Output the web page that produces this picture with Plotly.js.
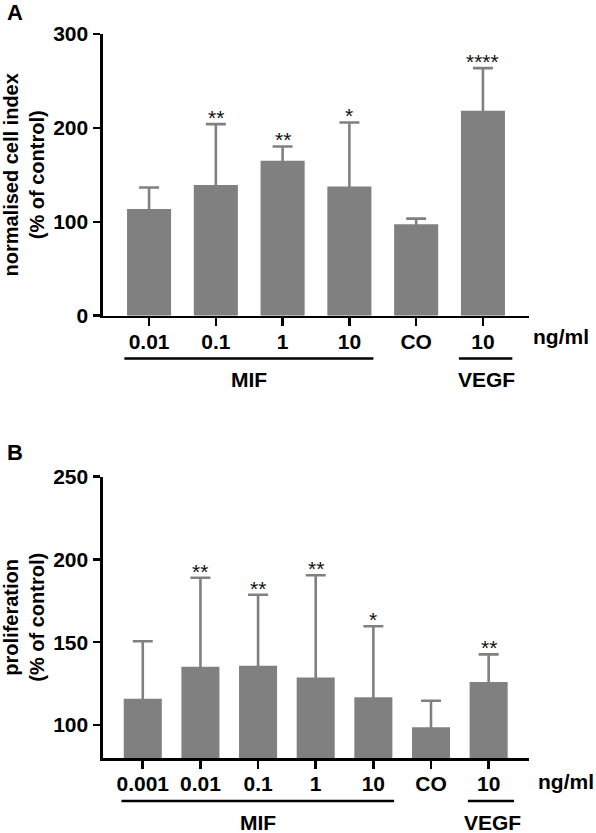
<!DOCTYPE html>
<html>
<head>
<meta charset="utf-8">
<script src="https://cdn.plot.ly/plotly-3.0.1.min.js"></script>
<style>html,body{margin:0;padding:0;background:#fff;}#chart{width:596px;height:833px;}</style>
</head>
<body>
<div id="chart"></div>
<script>
// ---------- data ----------
// Panel A: normalised cell index (% of control)
var labelsA = ['0.01', '0.1', '1', '10', 'CO', '10'];
var meansA  = [113.7, 139.3, 165.0, 137.5, 97.4, 218.2];
var sdA     = [22.8, 64.7, 15.2, 68.3, 6.0, 45.5];
var starsA  = ['', '**', '**', '*', '', '****'];
var groupsA = [['MIF', 0, 3], ['VEGF', 5, 5]];
var ticksA  = [0, 100, 200, 300];

// Panel B: proliferation (% of control)
var labelsB = ['0.001', '0.01', '0.1', '1', '10', 'CO', '10'];
var meansB  = [115.8, 135.1, 135.7, 128.7, 116.7, 98.6, 125.9];
var sdB     = [34.8, 53.8, 43.0, 61.7, 42.9, 16.0, 16.7];
var starsB  = ['', '**', '**', '**', '*', '', '**'];
var groupsB = [['MIF', 0, 4], ['VEGF', 6, 6]];
var ticksB  = [100, 150, 200, 250];

var unitLabel = 'ng/ml';

// ---------- layout helpers ----------
var W = 596, H = 833;
var mL = 103, mR = 67, mT = 34, mB = 75;
var pw = W - mL - mR, ph = H - mT - mB;
function px(x) { return (x - mL) / pw; }
function py(y) { return (H - mB - y) / ph; }

var FONT = '"Liberation Sans", Arial, Helvetica, sans-serif';
var GREY = '#808080';

function idx(arr) { return arr.map(function (_, i) { return i; }); }

function barTrace(labels, means, sd, xa, ya) {
  return {
    type: 'bar', x: idx(labels), y: means, xaxis: xa, yaxis: ya,
    width: 0.66, marker: { color: GREY, line: { width: 0 } },
    // mean ± SD; the lower half lies inside the bar (same colour) so only the upper half shows
    error_y: { type: 'data', symmetric: true, array: sd,
               color: GREY, thickness: 2.6, width: 10 },
    showlegend: false, hoverinfo: 'skip'
  };
}

var data = [
  barTrace(labelsA, meansA, sdA, 'x', 'y'),
  barTrace(labelsB, meansB, sdB, 'x2', 'y2')
];

var TICKFONT = { family: FONT, size: 21, color: '#000', weight: 700 };

function xAxis(labels, range, anchor) {
  return {
    range: range, anchor: anchor, domain: [0, 1],
    tickmode: 'array', tickvals: idx(labels), ticktext: labels,
    showline: true, linecolor: '#000', linewidth: 2.6,
    ticks: 'outside', ticklen: 8, tickwidth: 2.6, tickcolor: '#000',
    showgrid: false, zeroline: false, fixedrange: true,
    tickfont: TICKFONT, ticklabelstandoff: -3
  };
}
function yAxis(range, ticks, domain, anchor, title) {
  return {
    range: range, domain: domain, anchor: anchor,
    tickmode: 'array', tickvals: ticks,
    showline: true, linecolor: '#000', linewidth: 2.6,
    ticks: 'outside', ticklen: 7, tickwidth: 2.6, tickcolor: '#000',
    showgrid: false, zeroline: false, fixedrange: true,
    tickfont: TICKFONT, ticklabelstandoff: 1,
    title: { text: title, font: { family: FONT, size: 20, color: '#000', weight: 700 }, standoff: 6 }
  };
}

var annotations = [], shapes = [];

function addPanel(labels, means, sd, stars, groups, xr, yr, lineY, groupY, unitX, unitY, panelLetter, letterY) {
  stars.forEach(function (s, i) {
    if (!s) return;
    annotations.push({ xref: xr, yref: yr, x: i, y: means[i] + sd[i], text: s,
      showarrow: false, yanchor: 'bottom', yshift: -7,
      font: { family: FONT, size: 21, color: '#111' } });
  });
  groups.forEach(function (g) {
    var single = g[1] === g[2];
    var x0 = g[1] - (single ? 0.36 : 0.37);
    var x1 = g[2] + (single ? 0.44 : 0.36);
    shapes.push({ type: 'line', xref: xr, yref: 'paper', x0: x0, x1: x1, y0: py(lineY), y1: py(lineY),
      line: { color: '#000', width: 2.6 } });
    annotations.push({ xref: xr, yref: 'paper', x: (g[1] + g[2]) / 2 + (single ? 0.06 : 0), y: py(groupY),
      text: g[0], showarrow: false, xanchor: 'center', yanchor: 'middle',
      font: { family: FONT, size: 21, color: '#000', weight: 700 } });
  });
  annotations.push({ xref: 'paper', yref: 'paper', x: px(unitX), y: py(unitY), text: unitLabel,
    showarrow: false, xanchor: 'center', yanchor: 'middle',
    font: { family: FONT, size: 21, color: '#000', weight: 700 } });
  annotations.push({ xref: 'paper', yref: 'paper', x: px(15), y: py(letterY), text: panelLetter,
    showarrow: false, xanchor: 'center', yanchor: 'middle',
    font: { family: FONT, size: 22, color: '#000', weight: 700 } });
}

addPanel(labelsA, meansA, sdA, starsA, groupsA, 'x', 'y', 358.5, 380, 561, 337, 'A', 12);
addPanel(labelsB, meansB, sdB, starsB, groupsB, 'x2', 'y2', 801, 822, 566, 782, 'B', 452);

var layout = {
  width: W, height: H,
  margin: { l: mL, r: mR, t: mT, b: mB, autoexpand: false },
  paper_bgcolor: '#fff', plot_bgcolor: '#fff',
  font: { family: FONT, color: '#000' },
  showlegend: false,
  xaxis: xAxis(labelsA, [-0.69, 5.69], 'y'),
  yaxis: yAxis([0, 300], ticksA, [py(315.7), 1], 'x', 'normalised cell index<br>(% of control)'),
  xaxis2: xAxis(labelsB, [-0.69, 6.70], 'y2'),
  yaxis2: yAxis([80, 250], ticksB, [0, py(476.7)], 'x2', 'proliferation<br>(% of control)'),
  annotations: annotations,
  shapes: shapes
};

Plotly.newPlot('chart', data, layout, { displayModeBar: false, staticPlot: true });
</script>
</body>
</html>
